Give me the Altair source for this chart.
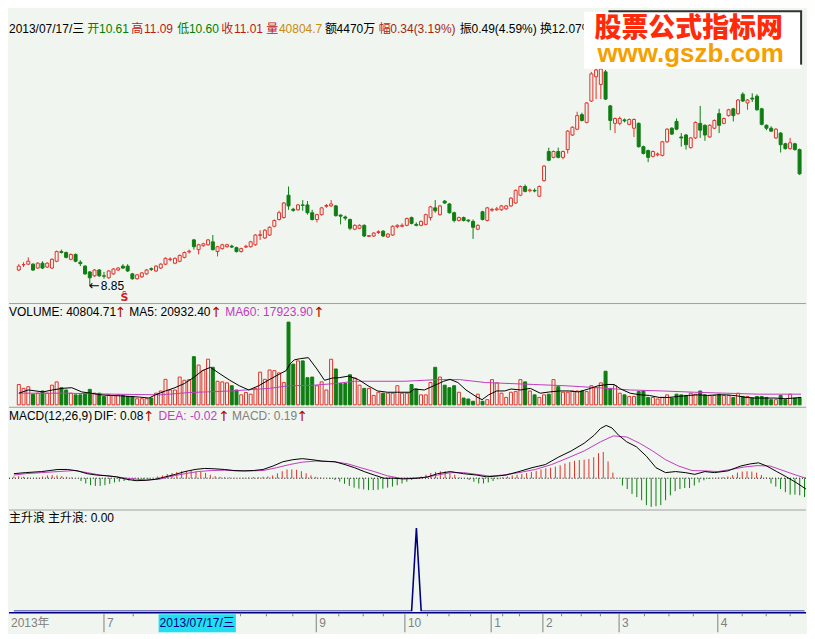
import altair as alt
import pandas as pd
import numpy as np

# ---------------- data ----------------
O = [9.65, 9.92, 9.95, 9.95, 9.75, 10.00, 9.80, 9.75, 10.10, 10.60,
     10.55, 10.20, 10.45, 10.05, 9.85, 9.55, 9.35, 9.65, 9.35, 9.25,
     9.45, 9.65, 9.85, 9.85, 9.45, 9.20, 9.30, 9.45, 9.72, 9.60,
     9.75, 9.95, 10.18, 10.00, 10.10, 10.30, 10.58, 11.20, 10.70, 10.90,
     10.95, 11.10, 10.60, 10.75, 10.85, 10.88, 10.80, 10.60, 10.83, 10.85,
     10.95, 11.43, 11.30, 11.45, 11.90, 12.25, 12.35, 13.50, 12.78, 12.75,
     13.00, 13.00, 12.60, 12.25, 12.50, 12.93, 12.95, 12.95, 12.48, 12.38,
     12.25, 11.75, 11.80, 11.95, 11.38, 11.40, 11.58, 11.65, 11.35, 11.45,
     11.88, 11.90, 11.95, 12.35, 12.00, 11.95, 12.00, 12.35, 12.85, 12.50,
     13.20, 13.05, 12.60, 12.20, 12.35, 12.22, 12.15, 11.75, 12.65, 12.20,
     12.73, 12.75, 12.75, 12.80, 12.95, 13.10, 13.50, 13.95, 13.73, 13.75,
     13.45, 14.25, 15.75, 15.45, 15.75, 15.45, 15.85, 16.60, 16.90, 17.65,
     17.25, 18.35, 19.60, 19.20, 19.85, 18.10, 17.20, 17.20, 17.38, 17.15,
     16.95, 17.20, 16.00, 15.80, 15.50, 15.58, 15.55, 16.25, 16.95, 17.30,
     16.50, 16.60, 15.95, 16.45, 17.20, 17.10, 16.50, 16.95, 17.70, 17.20,
     17.60, 17.95, 17.70, 18.70, 18.25, 18.50, 18.60, 17.95, 17.10, 16.95,
     16.45, 16.70, 16.15, 15.90, 16.15, 15.85]
H = [9.95, 10.05, 10.30, 10.00, 10.05, 10.10, 10.05, 10.25, 10.65, 10.70,
     10.60, 10.50, 10.50, 10.15, 9.90, 9.60, 9.70, 9.70, 9.55, 9.65,
     9.75, 9.80, 9.95, 9.95, 9.50, 9.45, 9.55, 9.70, 9.78, 9.90,
     10.00, 10.30, 10.30, 10.30, 10.45, 10.60, 10.70, 11.25, 11.00, 11.05,
     11.25, 11.45, 10.90, 11.00, 11.00, 10.95, 10.85, 10.80, 10.95, 11.15,
     11.50, 11.70, 11.75, 11.90, 12.25, 12.70, 13.15, 13.95, 12.85, 13.05,
     13.25, 13.20, 12.75, 12.55, 12.90, 13.05, 13.25, 13.00, 12.50, 12.45,
     12.30, 12.00, 12.00, 12.00, 11.45, 11.60, 11.70, 11.70, 11.55, 11.95,
     12.00, 12.05, 12.35, 12.40, 12.10, 12.20, 12.55, 12.95, 13.25, 13.00,
     13.25, 13.10, 12.65, 12.40, 12.40, 12.25, 12.25, 12.00, 12.70, 12.90,
     12.85, 12.90, 13.00, 13.00, 13.40, 13.80, 14.00, 14.05, 13.85, 13.85,
     14.00, 15.05, 15.95, 15.80, 15.95, 15.80, 16.85, 17.05, 17.80, 17.75,
     18.30, 19.85, 20.05, 20.05, 19.95, 18.15, 17.50, 17.55, 17.45, 17.45,
     17.45, 17.25, 16.05, 15.85, 15.80, 15.70, 16.30, 16.95, 17.00, 17.45,
     16.70, 16.65, 16.50, 17.30, 18.10, 17.15, 17.15, 17.40, 17.95, 17.50,
     17.95, 18.00, 18.45, 18.80, 18.45, 18.75, 18.70, 18.00, 17.15, 17.05,
     16.95, 16.75, 16.20, 16.45, 16.20, 15.90]
L = [9.60, 9.80, 9.90, 9.60, 9.70, 9.70, 9.75, 9.70, 10.05, 10.50,
     10.25, 10.15, 10.05, 9.85, 9.40, 8.85, 9.30, 9.30, 9.20, 9.20,
     9.40, 9.60, 9.70, 9.55, 9.15, 9.15, 9.25, 9.40, 9.60, 9.55,
     9.70, 9.90, 10.10, 9.95, 10.05, 10.25, 10.50, 10.70, 10.45, 10.85,
     10.90, 10.65, 10.35, 10.70, 10.80, 10.78, 10.55, 10.55, 10.78, 10.80,
     10.90, 11.20, 11.25, 11.40, 11.85, 12.20, 12.30, 12.75, 12.65, 12.70,
     12.70, 12.50, 12.20, 12.10, 12.45, 12.85, 12.90, 12.40, 12.00, 12.20,
     11.70, 11.70, 11.75, 11.35, 11.35, 11.35, 11.50, 11.35, 11.30, 11.40,
     11.80, 11.85, 11.90, 12.00, 11.90, 11.90, 11.95, 12.20, 12.60, 12.45,
     13.05, 12.55, 12.10, 12.15, 12.15, 12.10, 11.25, 11.70, 12.20, 12.15,
     12.65, 12.70, 12.70, 12.75, 12.90, 13.05, 13.45, 13.65, 13.65, 13.65,
     13.40, 14.20, 15.25, 15.40, 15.40, 15.35, 15.65, 16.55, 16.85, 17.30,
     17.20, 18.30, 18.45, 18.45, 18.40, 16.85, 16.70, 17.10, 17.25, 17.10,
     16.50, 15.95, 15.60, 15.20, 15.45, 15.50, 15.50, 16.20, 16.60, 16.85,
     16.00, 15.85, 15.90, 16.40, 16.45, 16.30, 16.45, 16.90, 16.70, 17.15,
     17.55, 17.30, 17.65, 18.30, 17.90, 18.30, 17.85, 17.10, 16.85, 16.75,
     16.40, 15.70, 15.85, 15.85, 15.80, 14.55]
C = [9.85, 9.93, 10.10, 9.65, 10.00, 9.75, 10.00, 10.20, 10.60, 10.55,
     10.30, 10.45, 10.10, 9.98, 9.45, 9.25, 9.65, 9.35, 9.33, 9.60,
     9.70, 9.75, 9.75, 9.60, 9.20, 9.40, 9.50, 9.65, 9.68, 9.85,
     9.95, 10.25, 10.22, 10.25, 10.40, 10.55, 10.62, 10.85, 10.95, 11.00,
     11.20, 10.70, 10.85, 10.95, 10.95, 10.83, 10.60, 10.75, 10.87, 11.10,
     11.45, 11.47, 11.70, 11.85, 12.20, 12.60, 13.10, 12.95, 12.72, 13.00,
     12.98, 12.60, 12.25, 12.50, 12.85, 12.97, 13.05, 12.45, 12.42, 12.32,
     11.80, 11.95, 11.95, 11.40, 11.42, 11.55, 11.62, 11.40, 11.50, 11.90,
     11.95, 11.95, 12.30, 12.05, 11.95, 12.15, 12.50, 12.90, 12.70, 12.95,
     13.10, 12.60, 12.20, 12.35, 12.20, 12.18, 11.85, 11.95, 12.25, 12.85,
     12.77, 12.80, 12.95, 12.95, 13.35, 13.75, 13.95, 13.70, 13.77, 13.72,
     13.95, 15.00, 15.30, 15.75, 15.45, 15.75, 16.80, 17.00, 17.60, 17.35,
     18.25, 19.75, 19.95, 20.00, 18.45, 17.35, 17.45, 17.45, 17.33, 17.40,
     17.40, 16.00, 15.65, 15.45, 15.75, 15.62, 16.25, 16.90, 16.65, 16.90,
     16.45, 16.10, 16.45, 17.25, 16.85, 16.60, 17.10, 17.35, 17.10, 17.45,
     17.90, 17.60, 18.40, 18.35, 18.40, 18.45, 17.90, 17.15, 16.95, 16.80,
     16.90, 16.10, 15.90, 16.20, 15.85, 14.60]
VOL = [37000, 30000, 33000, 19400, 21200, 25200, 21200, 35800, 41800, 31200,
       27000, 21200, 18200, 18200, 21200, 28200, 21200, 21200, 15300, 18200,
       17100, 18200, 17100, 15300, 15300, 11100, 11100, 11100, 12400, 21200,
       25200, 46400, 27000, 27000, 50600, 44700, 45900, 87700, 72400, 62300,
       83000, 68300, 42900, 41800, 40000, 34800, 27000, 18200, 22400, 19400,
       30000, 59500, 46400, 63500, 62300, 58200, 40600, 150600, 74100, 80000,
       80000, 49400, 50600, 34800, 41800, 27000, 83000, 65300, 38800, 38800,
       54700, 48900, 35800, 30000, 30000, 17100, 22900, 21200, 21200, 21200,
       34800, 21200, 21200, 37000, 28800, 18200, 18200, 40600, 68300, 50600,
       35800, 31200, 34800, 22900, 12400, 10600, 6500, 19400, 6500, 9400,
       45900, 40000, 21200, 13500, 22900, 24100, 45900, 41800, 25200, 18200,
       13500, 18200, 19400, 45900, 33000, 22900, 22900, 25200, 25200, 25200,
       24100, 34800, 31200, 40000, 61200, 30000, 34800, 21200, 18200, 15300,
       15300, 24100, 25200, 13500, 13500, 10600, 13500, 18200, 12400, 19400,
       18200, 17100, 21200, 19400, 25200, 18200, 17100, 17100, 19400, 17100,
       17100, 13500, 21200, 15300, 15300, 12400, 15300, 15300, 13500, 9400,
       9400, 17100, 9400, 19400, 12400, 13500]
MA5_I = [0, 2.0, 5.1, 7.1, 9.2, 11.2, 13.3, 15.3, 17.3, 19.4, 21.4, 23.5, 25.5, 27.5, 28.9,
         31, 33, 35, 37.1, 38.8, 40.5, 42.5, 44.6, 46.6, 48.6, 50.7, 52.7, 54.8, 56.5, 57.3,
         58.2, 59.5, 61.2, 63, 64.6, 66.3, 67.7, 69.7, 71.8, 73.8, 75.8, 77.9, 80, 82.7,
         83.6, 85.7, 87.7, 89.8, 91.1, 92.8, 94.5, 96.6, 97.9, 99.3, 101, 102.7, 104, 106.1,
         108.1, 110.2, 112.2, 114.3, 116.3, 118.3, 120.4, 122.4, 124.5, 125.8, 127.2, 129.2,
         131.3, 133.3, 135.3, 137.4, 139.4, 141.5, 143.5, 145.5, 147.6, 149.6, 151.7, 153.7,
         155.7, 157.8, 159.8, 161.9, 163.9, 165.3]
MA5_V = [21180, 27060, 23530, 27060, 30000, 31180, 23530, 21180, 18240, 17060, 16470, 15300,
         14120, 12360, 18240, 25300, 31180, 38830, 50600, 62360, 68250, 56480, 44710, 34710,
         27060, 34710, 44710, 54720, 62360, 74130, 81780, 84130, 85900, 65300, 44710, 48830,
         49420, 52360, 45890, 34710, 25300, 22950, 22950, 22950,
         28830, 27060, 34710, 42950, 46480, 40600, 27060, 15300, 9410, 18240, 25300, 25300,
         28830, 27060, 30000, 21180, 23530, 25300, 25300, 23530, 28830, 34710, 37070, 37070,
         28830, 21180, 18240, 17060, 13530, 13530, 15300, 17060, 18240, 17060, 18240, 18240,
         16470, 13530, 12360, 12360, 12360, 11180, 12360, 13530]
MA60_I = [0, 10, 20, 30, 36, 45, 53, 57, 62, 67, 71, 81.6, 88.4, 93.2, 98.6, 108.8, 115.6,
          122.4, 129.2, 136, 142.8, 149.6, 156.4, 165.3]
MA60_V = [21180, 21180, 19420, 18240, 22360, 25300, 30000, 34710, 35500, 38830, 42950, 42950,
          45890, 45890, 40600, 37070, 34710, 31180, 27060, 25300, 22950, 21180, 19420, 19420]
HIST = [0.05, 0.06, 0.04, 0.02, 0.0, 0.01, 0.05, 0.08, 0.09, 0.08, 0.06, 0.04, 0.02, 0.0,
        -0.08, -0.15, -0.2, -0.22, -0.22, -0.2, -0.16, -0.12,
        -0.1, -0.08, -0.07, -0.06, -0.05, -0.03, -0.02, 0.0,
        0.05, 0.08, 0.12, 0.15, 0.18, 0.2, 0.2, 0.22, 0.2, 0.18, 0.15, 0.1,
        0.06, 0.04, 0.03, 0.02, 0.01, 0.0, 0.01, 0.02, 0.03, 0.03, 0.04, 0.05,
        0.08, 0.14, 0.2, 0.25, 0.25, 0.24, 0.2, 0.14, 0.08,
        0.04, 0.02, 0.0, -0.02,
        -0.05, -0.1, -0.16, -0.22, -0.27, -0.3, -0.32, -0.34, -0.34, -0.33, -0.3, -0.27, -0.24,
        -0.2, -0.15, -0.1, -0.05, -0.02,
        0.05, 0.1, 0.15, 0.18, 0.2, 0.2, 0.15, 0.1, 0.02, 0.0,
        -0.05, -0.1, -0.15, -0.15, -0.12, -0.08, -0.03,
        0.03, 0.05, 0.08, 0.1, 0.12, 0.15, 0.18, 0.21, 0.25, 0.28, 0.3, 0.33, 0.37, 0.42, 0.46,
        0.5, 0.52, 0.53, 0.55, 0.6, 0.72, 0.75, 0.48, 0.16, 0.0,
        -0.21, -0.31, -0.45, -0.54, -0.63, -0.77, -0.82, -0.8, -0.77, -0.63, -0.49, -0.37, -0.31,
        -0.28, -0.28, -0.21, -0.12, -0.06, -0.02, 0.0, 0.02, 0.03,
        0.05, 0.09, 0.16, 0.19, 0.2, 0.19, 0.16, 0.09, 0.02,
        -0.15, -0.24, -0.31, -0.4, -0.47, -0.47, -0.49, -0.54]
DIF_I = [0, 2.4, 5.8, 9.2, 11.2, 13.3, 15.3, 17.3, 19.4, 21.4, 23.5, 25.5, 27.6, 29.6, 31.6,
         33.7, 35.7, 37.8, 39.8, 41.8, 43.9, 45.9, 48, 50, 52, 54.1, 56.1, 58.2, 60.2, 62.2,
         64.3, 67, 69.1, 71.1, 73.1, 75.2, 77.2, 79.3, 81.3, 84.3, 86.4, 88.4, 91.1, 93.8, 96.6,
         98.6, 100.6, 102.7, 105.4, 108.1, 110.9, 113.6, 116.3, 119, 121.1, 122.4, 123.6, 124.8,
         126.2, 127.9, 129.9, 132, 134, 136, 138.1, 140.1, 142.1, 144.2, 146.2, 149, 151.7,
         153.7, 155.4, 157.1, 159.2, 161.2, 163.2, 165.3]
DIF_V = [0.13, 0.16, 0.19, 0.25, 0.25, 0.21, 0.13, 0.09, 0.07, 0.04, -0.03, -0.07, -0.06,
         -0.03, 0.04, 0.11, 0.19, 0.25, 0.28, 0.27, 0.25, 0.22, 0.21, 0.22, 0.25, 0.35, 0.47,
         0.53, 0.56, 0.53, 0.49, 0.47, 0.39, 0.3, 0.19, 0.09, 0.0, 0.0, -0.02, 0.0, 0.04, 0.13,
         0.19, 0.13, 0.09, 0.04, 0.06, 0.09, 0.19, 0.3, 0.39, 0.6, 0.78, 1.0, 1.23, 1.42, 1.51,
         1.44, 1.23, 1.04, 0.9, 0.63, 0.3, 0.16, 0.19, 0.16, 0.11, 0.19, 0.16, 0.21, 0.35,
         0.41, 0.44, 0.35, 0.19, 0.04, -0.12, -0.31]
DEA_I = [0, 2.4, 5.8, 9.2, 12.6, 15.3, 18, 21.4, 24.1, 27.6, 30.3, 33, 35.7, 38.4, 41.2,
         43.9, 46.6, 49.3, 52, 54.8, 57.5, 60.2, 63, 67, 69.7, 72.4, 75.2, 77.9, 80.6, 82.6,
         85.7, 88.4, 91.1, 93.8, 96.6, 99.3, 102, 105.4, 108.8, 112.2, 115.6, 119, 122.4,
         125.1, 127.9, 130.6, 133.3, 136, 138.7, 141.5, 144.2, 146.9, 149.6, 152.4, 155.1,
         157.8, 160.5, 163.2, 165.3]
DEA_V = [0.09, 0.13, 0.16, 0.19, 0.22, 0.16, 0.09, 0.04, -0.01, -0.05, -0.03, 0.06, 0.13,
         0.19, 0.22, 0.23, 0.21, 0.21, 0.22, 0.3, 0.39, 0.46, 0.49, 0.47, 0.41, 0.3, 0.19,
         0.07, 0.0, 0.0, 0.02, 0.09, 0.16, 0.16, 0.11, 0.06, 0.09, 0.16, 0.25, 0.39, 0.58,
         0.78, 1.04, 1.21, 1.18, 1.0, 0.78, 0.53, 0.35, 0.22, 0.21, 0.19, 0.25, 0.32, 0.36,
         0.35, 0.22, 0.09, 0.0]
ZSL = [0.0] * 84 + [1.0] + [0.0] * 81
MONTH_LABELS = ["7", "9", "10", "1", "2", "3", "4"]
MONTH_POS = [18.8, 63.1, 81.6, 99.6, 110.4, 126.3, 146.9]
WEEK_TICKS = [24.9, 47.3, 52.7, 58.2, 67.8, 72.9, 77.1, 86.3, 90.8, 95.3, 102, 105.5,
              114.3, 118.4, 122.4, 131.6, 136.7, 141.8, 152.0, 157.0, 162.0]

# ---------------- styling ----------------
W = 799
SX = W / 815.0
SY = 0.975
BG = "#f0f5ef"
RED = "#e0332b"
GREEN = "#0f7d12"
MAG = "#c03cc0"
NAVY = "#000080"
DARKRED = "#b01000"
GRAY = "#808080"
TRED = "#c01818"
TGREEN = "#008000"
GOLD = "#c88a10"
FONT = "Liberation Sans, Arial, Noto Sans CJK SC, DejaVu Sans"
H_PRICE, H_VOL, H_MACD, H_ZSL, H_AXIS = 294, 104, 103, 102, 20
N = len(O)

ONE = pd.DataFrame({"k": [0]})


def T(s, xr, yr, color="#000000", size=12, font=FONT, weight="normal", align="left"):
    return alt.Chart(ONE).mark_text(
        text=s, color=color, fontSize=size, font=font, fontWeight=weight,
        align=align, baseline="middle",
    ).encode(x=alt.value(round(xr * SX, 1)), y=alt.value(round(yr * SY, 1)))


def arrow(xr, yr):
    return T("\u2191", xr, yr, DARKRED, size=14, font="DejaVu Sans")


def border(y=0.5, color="#a0a0a0", width=1):
    return alt.Chart(ONE).mark_rule(color=color, strokeWidth=width).encode(
        x=alt.value(0), x2=alt.value(W), y=alt.value(y))


df = pd.DataFrame({"i": list(range(N)), "o": O, "h": H, "l": L, "c": C, "v": VOL, "m": HIST})
df["top"] = df[["o", "c"]].max(axis=1)
df["bot"] = df[["o", "c"]].min(axis=1)
df["up"] = df["c"] >= df["o"]
df["col"] = np.where(df["up"], RED, GREEN)
df["mcol"] = np.where(df["m"] >= 0, RED, GREEN)

xscale = alt.Scale(domain=[-5 / 4.9, 810 / 4.9], nice=False, zero=False)
X = alt.X("i:Q", scale=xscale, axis=None)
NOCOL = alt.Color("col:N", scale=None)

# ---------------- price panel ----------------
py = alt.Scale(domain=[8.0, 23.1], nice=False, zero=False)
base = alt.Chart(df)
wick_hi = base.mark_rule(strokeWidth=1).encode(X, y=alt.Y("h:Q", scale=py, axis=None), y2="top:Q", color=NOCOL)
wick_lo = base.mark_rule(strokeWidth=1).encode(X, y=alt.Y("bot:Q", scale=py, axis=None), y2="l:Q", color=NOCOL)
body_up = base.transform_filter("datum.up").mark_bar(size=3, fill=BG, stroke=RED, strokeWidth=1).encode(
    X, y=alt.Y("c:Q", scale=py, axis=None), y2="o:Q")
body_dn = base.transform_filter("!datum.up").mark_bar(size=3, fill=GREEN, stroke=GREEN, strokeWidth=1).encode(
    X, y=alt.Y("o:Q", scale=py, axis=None), y2="c:Q")
low_lbl = alt.Chart(pd.DataFrame({"i": [15], "p": [8.85], "t": ["\u2190"], "n": ["8.85"]}))
low_arrow = low_lbl.mark_text(align="left", baseline="middle", fontSize=13, font="DejaVu Sans",
                              color="#000000", dx=-1, dy=0).encode(
    X, y=alt.Y("p:Q", scale=py, axis=None), text="t:N")
low_num = low_lbl.mark_text(align="left", baseline="middle", fontSize=12, font=FONT,
                            color="#000000", dx=11, dy=0).encode(
    X, y=alt.Y("p:Q", scale=py, axis=None), text="n:N")

header = [("2013/07/17/三", 0, "#000000"), ("开", 80, TGREEN), ("10.61", 92, TGREEN),
          ("高", 125, TRED), ("11.09", 138, TRED), ("低", 172, TGREEN), ("10.60", 184, TGREEN),
          ("收", 217, TRED), ("11.01", 230, TRED), ("量", 263, TRED), ("40804.7", 276, GOLD),
          ("额", 323, "#000000"), ("4470万", 335, "#000000"), ("幅", 378, TRED),
          ("0.34(3.19%)", 390, "#a02810"), ("振", 461, "#000000"), ("0.49(4.59%)", 473, "#000000"),
          ("换", 543, "#000000"), ("12.07%", 555, "#000000")]
header_layers = [T(s, x, 21, c) for s, x, c in header]

wm_box = alt.Chart(ONE).mark_rect(fill="#ffffff").encode(
    x=alt.value(588 * SX), x2=alt.value(810 * SX), y=alt.value(3), y2=alt.value(60))
wm_top = alt.Chart(ONE).mark_rule(color="#303030", strokeWidth=2).encode(
    x=alt.value(613 * SX), x2=alt.value(811 * SX), y=alt.value(2.5))
wm_right = alt.Chart(ONE).mark_rule(color="#303030", strokeWidth=2).encode(
    x=alt.value(810 * SX), y=alt.value(2.5), y2=alt.value(56))
wm1 = T("股票公式指标网", 695, 21, "#ff2a0a", size=27, font="Noto Sans CJK SC", weight=900, align="center")
wm2 = T("www.gszb.com", 697, 47, "#f5a000", size=26, font="Liberation Sans, Arial", weight="bold", align="center")
sig = T("\u015c", 118, 297, "#d02020", size=11, font="DejaVu Sans", weight="bold", align="center")

price = alt.layer(wick_hi, wick_lo, body_up, body_dn, low_arrow, low_num, sig, *header_layers,
                  wm_box, wm_top, wm_right, wm1, wm2).properties(width=W, height=H_PRICE)

# ---------------- volume panel ----------------
vy = alt.Scale(domain=[-3530, 185300], nice=False, zero=False)
vbase = alt.Chart(df)
vol_up = vbase.transform_filter("datum.up").mark_bar(size=3, fill=BG, stroke=RED, strokeWidth=1).encode(
    X, y=alt.Y("v:Q", scale=vy, axis=None), y2=alt.datum(0))
vol_dn = vbase.transform_filter("!datum.up").mark_bar(size=3, fill=GREEN, stroke=GREEN, strokeWidth=1).encode(
    X, y=alt.Y("v:Q", scale=vy, axis=None), y2=alt.datum(0))
ma5 = alt.Chart(pd.DataFrame({"i": MA5_I, "v": MA5_V})).mark_line(color="#000000", strokeWidth=1, clip=True).encode(
    X, y=alt.Y("v:Q", scale=vy, axis=None))
ma60 = alt.Chart(pd.DataFrame({"i": MA60_I, "v": MA60_V})).mark_line(color=MAG, strokeWidth=1, clip=True).encode(
    X, y=alt.Y("v:Q", scale=vy, axis=None))
vol_txt = [T("VOLUME: 40804.71", 0, 9), arrow(108, 10), T("MA5: 20932.40", 123, 9),
           arrow(206, 10), T("MA60: 17923.90", 221, 9, MAG), arrow(311, 10)]
vol = alt.layer(border(), vol_up, vol_dn, ma60, ma5, *vol_txt).properties(width=W, height=H_VOL)

# ---------------- MACD panel ----------------
my = alt.Scale(domain=[-0.896, 2.044], nice=False, zero=False)
zero_line = alt.Chart(pd.DataFrame({"z": [0.0]})).mark_rule(color="#000000", strokeWidth=1, strokeDash=[1, 2]).encode(
    y=alt.Y("z:Q", scale=my, axis=None), x=alt.value(0), x2=alt.value(W))
hist = alt.Chart(df).mark_rule(strokeWidth=1).encode(
    X, y=alt.Y("m:Q", scale=my, axis=None), y2=alt.datum(0), color=alt.Color("mcol:N", scale=None))
dif = alt.Chart(pd.DataFrame({"i": DIF_I, "m": DIF_V})).mark_line(color="#000000", strokeWidth=1, clip=True).encode(
    X, y=alt.Y("m:Q", scale=my, axis=None))
dea = alt.Chart(pd.DataFrame({"i": DEA_I, "m": DEA_V})).mark_line(color=MAG, strokeWidth=1, clip=True).encode(
    X, y=alt.Y("m:Q", scale=my, axis=None))
macd_txt = [T("MACD(12,26,9)", 0, 9), T("DIF: 0.08", 87, 9), arrow(137, 10),
            T("DEA: -0.02", 153, 9, MAG), arrow(214, 10), T("MACD: 0.19", 228, 9, GRAY),
            arrow(294, 10)]
macd = alt.layer(border(), zero_line, hist, dea, dif, *macd_txt).properties(width=W, height=H_MACD)

# ---------------- 主升浪 panel ----------------
zy = alt.Scale(domain=[0.0, 102 / 83.5], nice=False, zero=False)
zsl_line = alt.Chart(pd.DataFrame({"i": list(range(N)), "s": ZSL})).mark_line(color=NAVY, strokeWidth=1.6, clip=True).encode(
    X, y=alt.Y("s:Q", scale=zy, axis=None))
zsl_txt = [T("主升浪", 0, 9), T("主升浪: 0.00", 40, 9)]
zsl = alt.layer(border(), zsl_line, *zsl_txt).properties(width=W, height=H_ZSL)

# ---------------- date strip ----------------
seps = alt.Chart(pd.DataFrame({"i": MONTH_POS, "t": MONTH_LABELS}))
sep_rules = seps.mark_rule(color=GRAY, strokeWidth=1).encode(X, y=alt.value(1), y2=alt.value(20))
sep_text = seps.mark_text(align="left", baseline="middle", dx=3, fontSize=12, font=FONT, color=GRAY).encode(
    X, y=alt.value(11), text="t:N")
ticks = alt.Chart(pd.DataFrame({"i": WEEK_TICKS})).mark_rule(color=GRAY, strokeWidth=1).encode(
    X, y=alt.value(1), y2=alt.value(4))
cur_box = alt.Chart(ONE).mark_rect(fill="#22dff0").encode(
    x=alt.value(153 * SX), x2=alt.value(232 * SX), y=alt.value(2), y2=alt.value(20))
cur_txt = alt.Chart(ONE).mark_text(text="2013/07/17/三", align="left", baseline="middle", fontSize=12,
                                   font=FONT, color=NAVY).encode(x=alt.value(154 * SX), y=alt.value(11))
year_txt = alt.Chart(ONE).mark_text(text="2013年", align="left", baseline="middle", fontSize=12,
                                    font=FONT, color=GRAY).encode(x=alt.value(2), y=alt.value(11))
axisp = alt.layer(border(0.5, NAVY, 1.5), ticks, sep_rules, sep_text, year_txt, cur_box, cur_txt).properties(
    width=W, height=H_AXIS)

chart = alt.vconcat(price, vol, macd, zsl, axisp, spacing=0).resolve_scale(
    x="independent", y="independent").properties(background=BG, padding=0).configure_view(
    strokeWidth=0).configure_concat(spacing=0)

chart.save("out.html", embed_options={"renderer": "svg", "actions": False})
